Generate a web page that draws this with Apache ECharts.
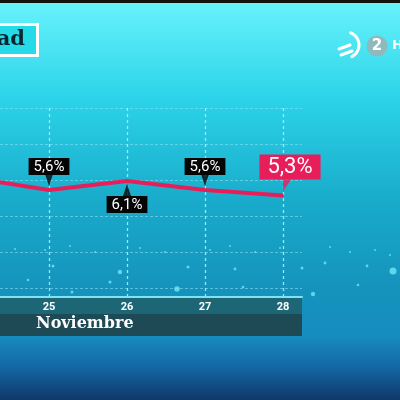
<!DOCTYPE html>
<html><head><meta charset="utf-8">
<script src="https://cdn.jsdelivr.net/npm/echarts@6/dist/echarts.min.js"></script>
<style>html,body{margin:0;padding:0;width:400px;height:400px;overflow:hidden;background:#1aa8c8}#c{width:400px;height:400px}</style>
</head><body><div id="c"></div>
<script>
const categories = ['24', '25', '26', '27', '28'];
const rates = [6.3, 5.6, 6.1, 5.6, 5.3];
const labelSide = [null, 'top', 'bottom', 'top', 'top'];
const monthLabel = 'Noviembre';
const titleText = 'ad';

const fmt = v => v.toFixed(1).replace('.', ',') + '%';
const PINK = '#e81e5a';

const lineData = rates.map((v, i) => {
  const item = { value: v };
  const side = labelSide[i];
  if (!side) { item.label = { show: false }; return item; }
  const last = i === rates.length - 1;
  item.label = {
    show: true,
    position: side,
    distance: last ? 15 : 14,
    offset: last ? [7, 0] : [0, 0],
    formatter: p => fmt(p.value),
    color: '#fff',
    fontFamily: 'Roboto, "DejaVu Sans", sans-serif',
    fontSize: last ? 22 : 15,
    lineHeight: last ? 23 : 15,
    backgroundColor: last ? PINK : '#050505',
    padding: last ? [2, 8, 0, 8] : [2, 5, 0, 5]
  };
  return item;
});

const pointerData = rates.map((v, i) => {
  const side = labelSide[i];
  if (!side) return { value: '-' };
  const last = i === rates.length - 1;
  if (last) {
    return {
      value: v,
      symbol: 'path://M0,0 L8,0 L0,12 Z',
      symbolSize: [8, 12],
      symbolOffset: [4, -10],
      itemStyle: { color: PINK }
    };
  }
  return {
    value: v,
    symbol: side === 'top' ? 'path://M0,0 L8,0 L4,12 Z' : 'path://M4,0 L8,12 L0,12 Z',
    symbolSize: [8, 12],
    symbolOffset: [0, side === 'top' ? -10 : 9],
    itemStyle: { color: '#050505' }
  };
});

// decorative sparkles of the broadcast background (not data)
const sparkles = [[120,272,2.2],[177,289,2.8],[393,271,3.5],[110,282,1.6],[53,266,1.5],[188,267,1.5],
  [235,269,1.4],[302,268,1.5],[325,263,1.4],[367,266,1.4],[28,280,1.3],[313,294,2.2],[72,292,1.5],
  [153,313,1.3],[15,249,1],[45,250,1],[70,246,1],[95,252,1],[140,248,1],[165,252,1],[210,250,1],
  [230,246,1],[255,252,1],[280,248,1],[330,247,1],[350,252,1],[375,250,1],[390,255,1],[243,287,1.3],[358,285,1.3]];

const sparkleGraphics = sparkles.map(s => ({ type: 'circle', z: -60, silent: true,
  shape: { cx: s[0], cy: s[1], r: s[2] }, style: { fill: 'rgba(120,235,250,0.75)' } }));

const chart = echarts.init(document.getElementById('c'), null, { renderer: 'canvas' });
chart.setOption({
  animation: false,
  graphic: [
    { type: 'rect', z: -100, silent: true, shape: { x: 0, y: 0, width: 400, height: 400 },
      style: { fill: { type: 'linear', x: 0, y: 0, x2: 0, y2: 1, colorStops: [
        { offset: 0, color: '#68f3fc' }, { offset: 0.25, color: '#2bd3e8' },
        { offset: 0.5, color: '#19abcb' }, { offset: 0.72, color: '#1593bc' },
        { offset: 0.84, color: '#178dc0' }, { offset: 0.92, color: '#1466a2' },
        { offset: 1, color: '#10386a' } ] } } },
    { type: 'rect', z: -99, silent: true, shape: { x: 0, y: 0, width: 400, height: 3 }, style: { fill: '#111' } },
    ...sparkleGraphics,
    // title box
    { type: 'rect', z: 10, shape: { x: -10, y: 24.5, width: 47.5, height: 31 },
      style: { fill: '#26dbe8', stroke: '#ffffff', lineWidth: 3 } },
    { type: 'text', z: 11, x: 25, y: 40,
      style: { text: titleText, fill: '#0a262e', font: 'bold 21px "DejaVu Serif", serif', textAlign: 'right', textVerticalAlign: 'middle' } },
    // logo
    { type: 'arc', z: 10, shape: { cx: 346, cy: 45, r: 13, startAngle: -1.2, endAngle: 1.1 },
      style: { stroke: '#fff', lineWidth: 3, fill: null, lineCap: 'round' } },
    { type: 'line', z: 10, shape: { x1: 339, y1: 49, x2: 350, y2: 45 }, style: { stroke: '#fff', lineWidth: 3, lineCap: 'round' } },
    { type: 'line', z: 10, shape: { x1: 341, y1: 55, x2: 352, y2: 51 }, style: { stroke: '#fff', lineWidth: 3, lineCap: 'round' } },
    { type: 'circle', z: 10, shape: { cx: 377, cy: 46, r: 10.5 }, style: { fill: '#8fb9bb' } },
    { type: 'text', z: 11, x: 377, y: 46, style: { text: '2', fill: '#fff', font: 'bold 15px "DejaVu Sans", sans-serif', textAlign: 'center', textVerticalAlign: 'middle' } },
    { type: 'text', z: 11, x: 392, y: 46, style: { text: 'H', fill: '#fff', font: 'bold 13px "DejaVu Sans", sans-serif', textAlign: 'left', textVerticalAlign: 'middle' } },
    // bottom band
    { type: 'rect', z: -50, silent: true, shape: { x: 0, y: 297, width: 302, height: 17 }, style: { fill: '#1d6676' } },
    { type: 'rect', z: -50, silent: true, shape: { x: 0, y: 314, width: 302, height: 22 }, style: { fill: '#1e4a56' } },
    { type: 'text', z: 11, x: 36, y: 324,
      style: { text: monthLabel, fill: '#ffffff', font: 'bold 16px "DejaVu Serif", serif', textAlign: 'left', textVerticalAlign: 'middle' } }
  ],
  grid: [
    { left: -29, right: 117, top: 108, bottom: 103, containLabel: false, outerBoundsMode: 'none' },
    { left: 0, width: 302, top: 108, bottom: 103, containLabel: false, outerBoundsMode: 'none' }
  ],
  xAxis: [
    { type: 'category', gridIndex: 0, data: categories, boundaryGap: false,
      axisLine: { show: false }, axisTick: { show: false },
      axisLabel: { color: '#ffffff', fontSize: 11, fontWeight: 'bold', fontFamily: 'Roboto, sans-serif', margin: 5 },
      splitLine: { show: true, lineStyle: { color: 'rgba(160,245,255,0.9)', width: 1.3, type: [3, 3] } } },
    { type: 'value', gridIndex: 1, min: 0, max: 1, position: 'bottom',
      axisLine: { show: true, onZero: false, lineStyle: { color: '#7fe3f2', width: 2 } },
      axisTick: { show: false }, axisLabel: { show: false }, splitLine: { show: false } }
  ],
  yAxis: [
    { type: 'value', gridIndex: 0, min: -0.34, max: 10.16, show: false, splitLine: { show: false } },
    { type: 'value', gridIndex: 1, inverse: true, min: 0, max: 21, interval: 4,
      axisLine: { show: false }, axisTick: { show: false }, axisLabel: { show: false },
      splitLine: { show: true, lineStyle: { color: 'rgba(140,230,245,0.55)', width: 1, type: [3, 2] } } }
  ],
  series: [
    { type: 'line', xAxisIndex: 0, yAxisIndex: 0, data: lineData, z: 3,
      symbol: 'circle', symbolSize: 2, showSymbol: true,
      lineStyle: { color: PINK, width: 4 }, itemStyle: { color: PINK } },
    { type: 'scatter', xAxisIndex: 0, yAxisIndex: 0, data: pointerData, z: 4, silent: true }
  ]
});
</script></body></html>
